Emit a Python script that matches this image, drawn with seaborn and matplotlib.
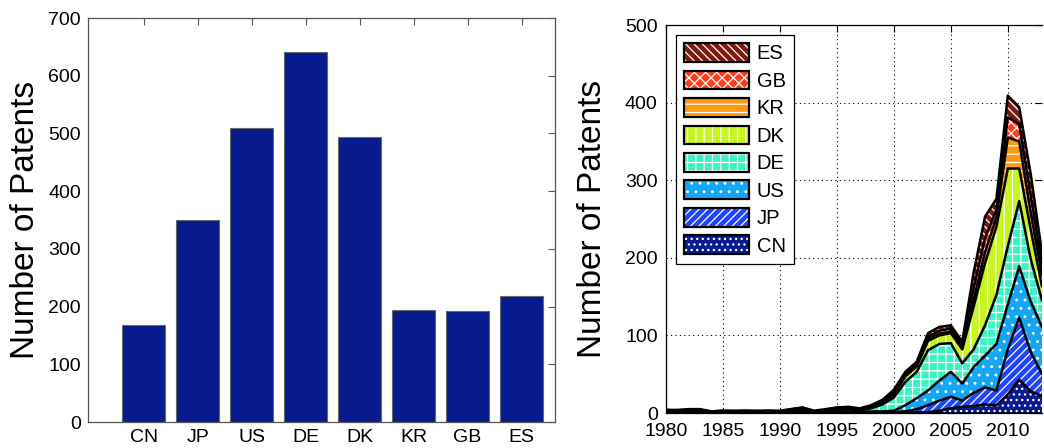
import numpy as np
import pandas as pd
import matplotlib
matplotlib.use("Agg")
import matplotlib.pyplot as plt
from matplotlib.patches import Patch
import seaborn as sns

# ---------------- data ----------------
countries = ["CN", "JP", "US", "DE", "DK", "KR", "GB", "ES"]
patent_totals = [168, 350, 509, 641, 493, 194, 193, 218]

years = list(range(1980, 2014))
cn = [0]*20 + [0, 0, 1, 1, 3, 6, 8, 9, 11, 10, 24, 43, 28, 22]
jp = [1, 1, 1, 1, 0, 1, 1, 1, 0, 1, 1, 1, 2, 1, 1, 1, 1, 1, 1, 1] + \
     [1, 2, 4, 9, 13, 15, 8, 17, 22, 19, 58, 80, 51, 28]
us = [1, 0, 1, 1, 0, 0, 0, 0, 1, 0, 0, 1, 1, 0, 1, 1, 1, 0, 1, 1] + \
     [2, 8, 14, 19, 26, 32, 22, 33, 41, 60, 58, 66, 65, 61]
de = [1, 1, 1, 1, 1, 1, 1, 1, 1, 1, 1, 1, 2, 1, 1, 2, 3, 2, 4, 9] + \
     [17, 30, 34, 52, 47, 37, 26, 23, 39, 63, 75, 84, 55, 34]
dk = [0]*15 + [1, 1, 1, 2, 3] + \
     [4, 7, 7, 12, 11, 13, 18, 55, 80, 88, 100, 42, 38, 18]
kr = [0]*11 + [1, 1, 0, 1, 1, 1, 0, 1, 1] + \
     [1, 1, 1, 2, 2, 2, 2, 9, 14, 12, 40, 35, 22, 15]
gb = [1, 1, 1, 1, 1, 1, 0, 1, 0, 1, 0, 1, 1, 0, 0, 1, 0, 1, 0, 1] + \
     [2, 2, 2, 3, 4, 4, 3, 15, 18, 10, 26, 22, 22, 14]
es = [0, 1, 1, 1, 0, 0, 1, 0, 1, 0, 1, 0, 0, 1, 1, 0, 1, 1, 1, 1] + \
     [3, 3, 3, 5, 5, 4, 5, 20, 28, 14, 28, 22, 28, 14]

series = [cn, jp, us, de, dk, kr, gb, es]
colors = ["#0b1a8f", "#1f45ff", "#12a6f5", "#3cf2c2", "#c8f520",
          "#ff9a10", "#ff3d1c", "#7e1a10"]
hatches = ["...", "////", "..", "++", "||", "--", "xxx", "\\\\\\\\"]

# ---------------- style ----------------
sns.set_theme(style="white")
plt.rcParams["font.family"] = ["Liberation Sans", "DejaVu Sans"]
plt.rcParams["hatch.linewidth"] = 0.9
for k in ["text.color", "axes.labelcolor", "xtick.color", "ytick.color"]:
    plt.rcParams[k] = "black"

fig = plt.figure(figsize=(10.44, 4.48), dpi=100)

# ---------------- left: bar chart ----------------
ax1 = fig.add_axes([88/1044, 26/448, 467/1044, 404/448])
df = pd.DataFrame({"country": countries, "patents": patent_totals})
sns.barplot(data=df, x="country", y="patents", color="#071a8e",
            saturation=1, width=0.8, edgecolor="#6a6a6a", linewidth=0.8,
            ax=ax1)
ax1.set_xlim(-1.03, 7.62)
ax1.set_ylim(0, 700)
ax1.set_yticks(range(0, 701, 100))
ax1.set_xlabel("")
ax1.set_ylabel("Number of Patents", fontsize=24, labelpad=5)
ax1.tick_params(direction="in", top=True, right=True, length=5,
                width=0.8, color="#555555", labelsize=14, pad=5)
for s in ax1.spines.values():
    s.set_color("#555555")
    s.set_linewidth(0.9)

# ---------------- right: stacked area ----------------
ax2 = fig.add_axes([666/1044, 35/448, 376/1044, 388/448])
ax2.set_axisbelow(True)
yrs = np.array(years)
stack = np.cumsum(np.array(series, dtype=float), axis=0)
lower = np.zeros_like(yrs, dtype=float)
for i, name in enumerate(countries):
    upper = stack[i]
    ax2.fill_between(yrs, lower, upper, facecolor=colors[i],
                     edgecolor="white", hatch=hatches[i], linewidth=0,
                     zorder=2 + i * 0.01)
    lower = upper
for i, name in enumerate(countries):
    line_df = pd.DataFrame({"year": yrs, "value": stack[i]})
    sns.lineplot(data=line_df, x="year", y="value", color="black",
                 linewidth=1.8, ax=ax2, zorder=3)
ax2.plot(yrs, np.zeros_like(yrs), color="black", linewidth=1.8, zorder=3)

ax2.set_xlim(1980, 2013)
ax2.set_ylim(0, 500)
ax2.set_xticks(range(1980, 2011, 5))
ax2.set_yticks(range(0, 501, 100))
ax2.grid(True, linestyle=(0, (1, 3)), color="black", linewidth=0.8)
ax2.set_xlabel("")
ax2.set_ylabel("Number of Patents", fontsize=24, labelpad=12)
ax2.tick_params(direction="in", top=True, right=True, length=5,
                width=0.8, color="black", labelsize=14, pad=6)
ax2.tick_params(axis="x", pad=7)
for s in ax2.spines.values():
    s.set_color("black")
    s.set_linewidth(0.9)
ax2.spines["right"].set_visible(False)

handles = []
for i in range(len(countries) - 1, -1, -1):
    h1 = Patch(facecolor=colors[i], edgecolor="white", hatch=hatches[i],
               linewidth=0)
    h2 = Patch(facecolor="none", edgecolor="black", linewidth=1.6)
    handles.append((h1, h2))
labels = countries[::-1]
leg = ax2.legend(handles, labels, loc="upper left",
                 bbox_to_anchor=(0.027, 0.974), borderaxespad=0,
                 fontsize=14.5,
                 handlelength=3.2, handleheight=1.05, labelspacing=0.36,
                 handletextpad=0.4, borderpad=0.4, fancybox=False,
                 framealpha=1, edgecolor="black")
leg.get_frame().set_linewidth(0.9)
leg.set_zorder(10)

fig.savefig("out.png", dpi=100)
